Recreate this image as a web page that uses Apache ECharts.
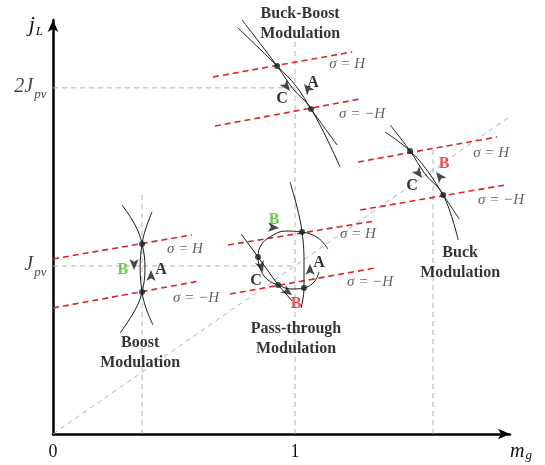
<!DOCTYPE html>
<html><head><meta charset="utf-8">
<script src="https://cdn.jsdelivr.net/npm/echarts@6/dist/echarts.min.js"></script>
<style>html,body{margin:0;padding:0;background:#fff}#c{width:545px;height:465px}</style>
</head><body><div id="c"></div>
<script>
// ---- axis extents (x: m_g, y: j_L in units of J_pv) ----
const xMax = 1.888, yMax = 2.464;
const yTickValues = [1, 2.06];
const yTickLabels = ['{j|J}{s|pv}', '{j|2J}{s|pv}'];

// ---- gray dashed guides ----
const guide2Jpv  = [[0, 2.06], [1, 2.06]];
const guideJpv   = [[0, 1], [1, 1]];
const guideMg1   = [[1, 0], [1, 2.345]];
const guideBoost = [[0.368, 0], [0.368, 1.423]];
const guideBuck  = [[1.570, 0], [1.570, 1.708]];
const guideDiag  = [[0, 0], [1.897, 1.899]];

// ---- sliding surfaces sigma = +H / -H (red dashed) ----
const boostUpper = [[0, 1.042], [0.574, 1.185]];
const boostLower = [[0, 0.750], [0.607, 0.911]];
const passUpper  = [[0.723, 1.125], [1.331, 1.268]];
const passLower  = [[0.731, 0.833], [1.331, 0.988]];
const bbUpper    = [[0.661, 2.125], [1.236, 2.274]];
const bbLower    = [[0.669, 1.833], [1.269, 1.994]];
const buckUpper  = [[1.260, 1.619], [1.835, 1.768]];
const buckLower  = [[1.269, 1.333], [1.868, 1.482]];

// ---- trajectories (black) ----
const boostArcR = [[0.285,1.363],[0.339,1.244],[0.368,1.131],[0.380,0.988],[0.368,0.845],[0.339,0.738],[0.277,0.601]];
const boostArcL = [[0.409,1.321],[0.384,1.226],[0.368,1.131],[0.360,0.988],[0.368,0.845],[0.384,0.750],[0.413,0.649]];
const bbCurve1  = [[0.781,2.464],[0.926,2.190],[0.992,2.054],[1.066,1.935],[1.186,1.589]];
const bbCurve2  = [[0.764,2.417],[0.926,2.190],[1.004,2.071],[1.066,1.935],[1.174,1.720]];
const buckCurve1 = [[1.393,1.839],[1.475,1.685],[1.537,1.548],[1.612,1.423],[1.674,1.155]];
const buckCurve2 = [[1.372,1.798],[1.475,1.685],[1.550,1.560],[1.612,1.423],[1.678,1.280]];
const passVert  = [[0.979,1.500],[1.008,1.351],[1.029,1.202],[1.037,1.024],[1.037,0.869],[1.025,0.750]];
const passLoop  = [[1.136,1.101],[1.095,1.167],[1.029,1.202],[0.959,1.208],[0.897,1.173],[0.860,1.125],[0.847,1.054],[0.860,0.970],[0.888,0.917],[0.930,0.887],[0.983,0.863],[1.037,0.869],[1.079,0.905],[1.099,0.964]];
const passLine  = [[0.777,1.190],[0.847,1.054],[0.930,0.887],[0.988,0.792]];

// ---- intersection dots ----
const dots = [[0.368,1.131],[0.368,0.845],[0.926,2.190],[1.066,1.935],[1.475,1.685],[1.612,1.423],
              [1.029,1.202],[0.847,1.054],[0.930,0.887],[1.037,0.869]];

// ---- arrowheads [x, y, direction deg CCW from up] ----
const arrows = [[0.335,0.976,180],[0.405,0.976,0],[1.037,2.083,38],[0.979,2.042,-142],
                [1.583,1.560,37],[1.525,1.524,-143],[0.934,1.226,-95],[1.062,1.012,0],
                [0.868,0.964,-160],[0.988,0.827,-125]];

// ---- text annotations ----
const titleText = ['Buck-Boost\nModulation', 'Buck\nModulation', 'Pass-through\nModulation', 'Boost\nModulation'];
const titlePos  = [[1.021,2.440],[1.682,1.018],[1.004,0.565],[0.360,0.482]];
const sigmaText = ['σ = H','σ = −H','σ = H','σ = −H','σ = H','σ = −H','σ = H','σ = −H'];
const sigmaPos  = [[1.215,2.200],[1.277,1.905],[1.810,1.675],[1.851,1.395],[1.260,1.190],[1.310,0.902],[0.545,1.098],[0.591,0.812]];
const blackLetters = [['A',0.446,0.976],['A',1.074,2.090],['C',0.946,1.995],['C',1.483,1.476],['A',1.099,1.018],['C',0.839,0.911]];
const greenLetters = [['B',0.289,0.976],['B',0.913,1.274]];
const redLetters   = [['B',1.616,1.607],['B',1.004,0.774]];

const SERIF = '"Liberation Serif","Times New Roman",serif';
const GRAY = '#b3b3b3', RED = '#d8262b', INK = '#1a1a1a';

function lineS(data, color, type, width, smooth) {
  return { type: 'line', data: data, showSymbol: false, symbol: 'none', clip: false, silent: true,
    smooth: smooth || false, lineStyle: { color: color, width: width, type: type } , z: type === 'solid' ? 4 : 2};
}
function textS(items, labelOpt, z) {
  return { type: 'scatter', clip: false, silent: true, symbolSize: 1, itemStyle: { color: 'rgba(0,0,0,0)' },
    data: items, z: z || 6, label: Object.assign({ show: true, position: 'inside', formatter: p => p.name }, labelOpt) };
}

const series = [];
[guide2Jpv, guideJpv, guideMg1, guideBoost, guideBuck, guideDiag].forEach(d => series.push(lineS(d, GRAY, [5, 4], 1)));
[boostUpper, boostLower, passUpper, passLower, bbUpper, bbLower, buckUpper, buckLower].forEach(d => series.push(lineS(d, RED, [6, 4], 1.6)));
[boostArcR, boostArcL, bbCurve1, bbCurve2, buckCurve1, buckCurve2, passVert, passLoop].forEach(d => series.push(lineS(d, INK, 'solid', 1, 0.4)));
series.push(lineS(passLine, INK, 'solid', 1, false));
series.push({ type: 'scatter', data: dots, symbolSize: 6, itemStyle: { color: '#0f2424' }, z: 8, silent: true, clip: false });
series.push({ type: 'scatter', data: arrows, symbol: 'arrow', symbolSize: [7, 11], symbolRotate: v => v[2],
  itemStyle: { color: INK }, z: 8, silent: true, clip: false });
series.push(textS(titleText.map((t, i) => ({ name: t, value: titlePos[i] })),
  { fontFamily: SERIF, fontWeight: 'bold', fontSize: 16, lineHeight: 20, color: '#000', align: 'center' }));
series.push(textS(sigmaText.map((t, i) => ({ name: t, value: sigmaPos[i] })),
  { fontFamily: SERIF, fontStyle: 'italic', fontSize: 15, color: '#3a3a3a' }));
series.push(textS(blackLetters.map(a => ({ name: a[0], value: [a[1], a[2]] })),
  { fontFamily: SERIF, fontWeight: 'bold', fontSize: 16, color: '#000' }));
series.push(textS(greenLetters.map(a => ({ name: a[0], value: [a[1], a[2]] })),
  { fontFamily: SERIF, fontWeight: 'bold', fontSize: 16, color: '#44c21f' }));
series.push(textS(redLetters.map(a => ({ name: a[0], value: [a[1], a[2]] })),
  { fontFamily: SERIF, fontWeight: 'bold', fontSize: 16, color: '#ee2222' }));
// y tick labels
series.push({ type: 'scatter', clip: false, silent: true, symbolSize: 1, itemStyle: { color: 'rgba(0,0,0,0)' },
  data: yTickValues.map((v, i) => ({ name: yTickLabels[i], value: [0, v] })),
  label: { show: true, position: 'left', distance: 6, formatter: p => p.name,
    rich: { j: { fontFamily: SERIF, fontStyle: 'italic', fontSize: 20, lineHeight: 22, verticalAlign: 'top', color: '#111' },
            s: { fontFamily: SERIF, fontStyle: 'italic', fontSize: 13, lineHeight: 13, padding: [11, 0, 0, 1], verticalAlign: 'top', color: '#111' } } } });

const chart = echarts.init(document.getElementById('c'), null, { renderer: 'canvas' });
chart.setOption({
  animation: false,
  backgroundColor: '#fff',
  grid: { left: 53, right: 35, top: 20, bottom: 31, containLabel: false, outerBoundsMode: 'none' },
  xAxis: { type: 'value', min: 0, max: xMax, interval: 1,
    name: '{m|m}{s|g}', nameLocation: 'end', nameGap: 0,
    nameTextStyle: { verticalAlign: 'top', align: 'left', padding: [8, 0, 0, 0],
      rich: { m: { fontFamily: SERIF, fontStyle: 'italic', fontSize: 20, lineHeight: 22, verticalAlign: 'top', color: '#111' },
              s: { fontFamily: SERIF, fontStyle: 'italic', fontSize: 13, lineHeight: 13, padding: [7, 0, 0, 1], verticalAlign: 'top', color: '#111' } } },
    axisLine: { lineStyle: { color: '#000', width: 2.5 }, symbol: ['none', 'arrow'], symbolSize: [8, 12] },
    axisTick: { show: false }, splitLine: { show: false },
    axisLabel: { fontFamily: SERIF, fontSize: 18, color: '#111', margin: 9, showMaxLabel: false } },
  yAxis: { type: 'value', min: 0, max: yMax,
    name: '{j|j}{s|L}', nameLocation: 'end', nameGap: 0,
    nameTextStyle: { align: 'right', verticalAlign: 'top', padding: [-6, 10, 0, 0],
      rich: { j: { fontFamily: SERIF, fontStyle: 'italic', fontSize: 22, lineHeight: 24, verticalAlign: 'top', color: '#111' },
              s: { fontFamily: SERIF, fontStyle: 'italic', fontSize: 13, lineHeight: 13, padding: [11, 0, 0, 1], verticalAlign: 'top', color: '#111' } } },
    axisLine: { lineStyle: { color: '#000', width: 2.5 }, symbol: ['none', 'arrow'], symbolSize: [8, 12] },
    axisTick: { show: false }, splitLine: { show: false }, axisLabel: { show: false } },
  series: series
});
</script></body></html>
